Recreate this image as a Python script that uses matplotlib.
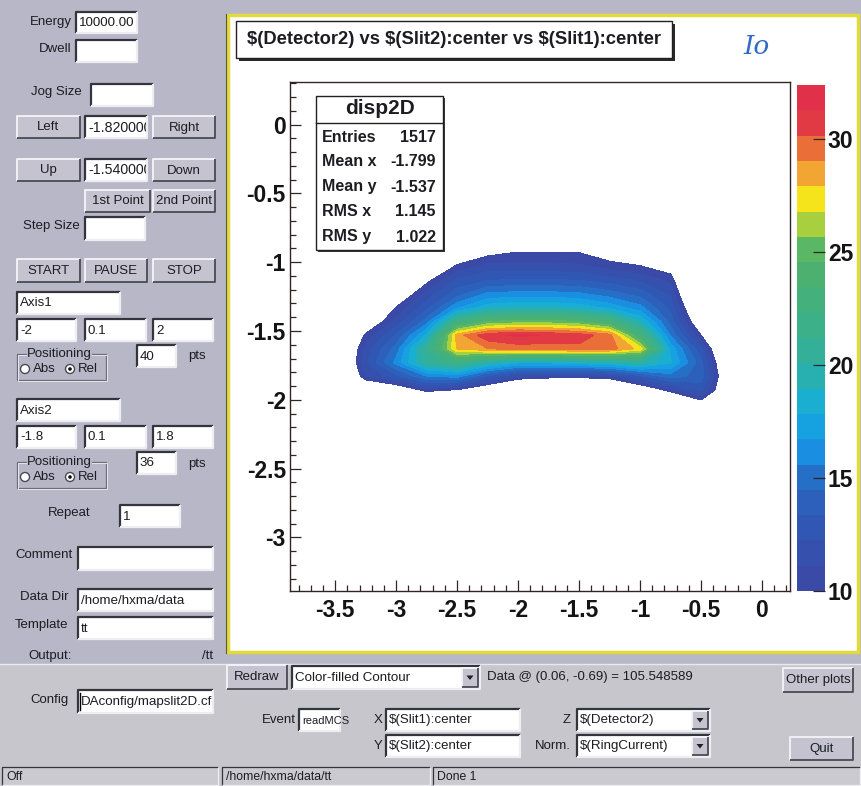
import numpy as np
import matplotlib.pyplot as plt
from matplotlib.colors import ListedColormap, BoundaryNorm
from matplotlib.patches import Rectangle, Circle, Polygon
from matplotlib.ticker import MultipleLocator
from matplotlib.transforms import Bbox

plt.rcParams['font.family'] = ['Liberation Sans', 'DejaVu Sans']

# scan grid: Slit1 / Slit2 centre positions, Detector2 counts normalised to ring current
slit1 = [-3.5, -3.25, -3.0, -2.75, -2.5, -2.25, -2.0, -1.75, -1.5, -1.25, -1.0, -0.75, -0.5, -0.25]
slit2 = [-2.23, -2.13, -2.03, -1.93, -1.83, -1.73, -1.63, -1.53,
         -1.43, -1.33, -1.23, -1.13, -1.03, -0.93, -0.83, -0.73]
counts = [
    [1, 1, 2, 2, 2, 2, 1, 1, 1, 1, 2, 3, 2, 1],
    [1, 2, 3, 3, 3, 3, 2, 2, 2, 2, 3, 4, 4, 2],
    [2, 3, 4, 5, 5, 4.5, 4, 3, 3, 3, 4, 6, 9, 5],
    [3, 7, 8, 10.5, 9.8, 8, 6, 4, 5, 6, 8, 10.5, 12.5, 7],
    [5, 11, 13, 15.5, 16, 13, 11, 10.8, 10.5, 10.8, 13, 15, 14, 7],
    [5.5, 12, 16, 20.5, 22, 19.5, 18, 18, 18.5, 19, 20, 18, 13.8, 6],
    [5.5, 11.5, 15, 21, 28, 29, 29.5, 29.5, 29.8, 29.6, 27.5, 17.5, 12.5, 5],
    [4.5, 10.3, 13.5, 18, 28.5, 31, 31.5, 31.2, 30.8, 29.5, 23, 15.5, 10, 4],
    [2, 8, 11.5, 15, 22, 24.5, 25, 25, 24.5, 23, 19, 14, 8, 3],
    [2, 5, 10.1, 13, 16.5, 18.5, 19, 19, 18.5, 17.5, 16, 13, 6.5, 3],
    [1, 3, 8, 11.5, 14, 15.8, 16, 16, 15.8, 15, 14, 12, 5, 2],
    [1, 2, 6, 9.5, 12.5, 13.3, 13.5, 13.5, 13.3, 12.8, 12, 10.8, 4, 2],
    [1, 2, 4, 7, 10.3, 11.5, 11.5, 11.5, 11.3, 10.6, 10.1, 9, 3, 2],
    [1, 2, 3, 5, 8, 9.5, 10.1, 10.1, 10, 9, 8, 6, 2, 1],
    [1, 1, 2, 3, 5, 6.5, 7, 7, 7, 6, 5, 4, 2, 1],
    [1, 1, 2, 2, 3, 4, 4, 4, 4, 3, 3, 2, 1, 1],
]

stats_names = ['Entries', 'Mean x', 'Mean y', 'RMS x', 'RMS y']
stats_values = ['1517', '-1.799', '-1.537', '1.145', '1.022']

x_ticks = [-3.5, -3, -2.5, -2, -1.5, -1, -0.5, 0]
x_labels = ['-3.5', '-3', '-2.5', '-2', '-1.5', '-1', '-0.5', '0']
y_ticks = [0, -0.5, -1, -1.5, -2, -2.5, -3]
y_labels = ['0', '-0.5', '-1', '-1.5', '-2', '-2.5', '-3']
z_ticks = [10, 15, 20, 25, 30]
z_labels = ['10', '15', '20', '25', '30']

palette = ['#3b4aa6', '#3650ad', '#3157b4', '#2c60bb', '#2570c6', '#1a8ee0', '#16a2e0',
           '#1aaed0', '#28b0b0', '#34b098', '#3cb088', '#44b07c', '#4cb070', '#5ab865',
           '#a8cf3e', '#f5e31c', '#f2a532', '#ea6e38', '#e23a45', '#e0304a']
z_min, z_max = 10, 32.4

W, H = 862, 786
PANEL = '#b8b7c7'
LOWER = '#c6c6cc'
BTN = '#c4c3cf'

fig = plt.figure(figsize=(W / 100, H / 100), dpi=100)
bg = fig.add_axes([0, 0, 1, 1])
bg.set_xlim(0, W)
bg.set_ylim(H, 0)
bg.axis('off')


def txt(ax, x, y, s, ha='left', size=9.5, **kw):
    kw.setdefault('color', '#1c1c22')
    return ax.text(x, y, s, ha=ha, va='center', fontsize=size, parse_math=False, **kw)


def bevel(ax, x0, y0, x1, y1, face, raised=True, lw=1.3):
    ax.add_patch(Rectangle((x0, y0), x1 - x0, y1 - y0, facecolor=face, edgecolor='none'))
    hi, lo = ('#f4f4f8', '#4a4a54') if raised else ('#34343c', '#eeeef2')
    ax.plot([x0, x0, x1], [y1, y0, y0], color=hi, lw=lw, solid_capstyle='butt')
    ax.plot([x0, x1, x1], [y1, y1, y0], color=lo, lw=lw, solid_capstyle='butt')


def button(x0, y0, x1, y1, s):
    bevel(bg, x0, y0, x1, y1, BTN)
    txt(bg, (x0 + x1) / 2, (y0 + y1) / 2 + 0.5, s, ha='center')


def entry(x0, y0, x1, y1, s='', size=9.6, clip=True):
    bevel(bg, x0, y0, x1, y1, 'white', raised=False, lw=1.6)
    if s:
        t = txt(bg, x0 + 3, (y0 + y1) / 2 + 0.5, s, size=size)
        if clip:
            t.set_clip_box(Bbox([[x0 + 1, H - y1], [x1 - 1, H - y0]]))
            t.set_clip_on(True)


def combo(x0, y0, x1, y1, s):
    entry(x0, y0, x1, y1, s)
    bevel(bg, x1 - 18, y0 + 2, x1 - 2, y1 - 2, BTN)
    cx, cy = x1 - 10, (y0 + y1) / 2
    bg.add_patch(Polygon([[cx - 3.5, cy - 2], [cx + 3.5, cy - 2], [cx, cy + 2.5]],
                         closed=True, facecolor='#202020', edgecolor='none'))


def radio_group(y, label):
    bg.add_patch(Rectangle((17, y), 89, 26, facecolor='none', edgecolor='#6c6c78', lw=0.9))
    bg.add_patch(Rectangle((18, y + 1), 89, 26, facecolor='none', edgecolor='#eeeef2', lw=0.6))
    txt(bg, 27, y, label, bbox=dict(facecolor=PANEL, edgecolor='none', pad=0.3))
    for cx, s, on in [(25, 'Abs', False), (70, 'Rel', True)]:
        bg.add_patch(Circle((cx, y + 15), 4.5, facecolor='white', edgecolor='#4a4a54', lw=1))
        if on:
            bg.add_patch(Circle((cx, y + 15), 1.8, facecolor='#101010', edgecolor='none'))
        txt(bg, cx + 8, y + 15, s)


# window background
bg.add_patch(Rectangle((0, 0), W, 664, facecolor=PANEL, edgecolor='none'))
bg.add_patch(Rectangle((0, 664), W, H - 664, facecolor=LOWER, edgecolor='none'))
bg.plot([0, W], [664, 664], color='#e8e8ee', lw=1)

# left control panel
txt(bg, 72, 22, 'Energy', ha='right')
entry(76, 12, 137, 33, '10000.00')
txt(bg, 72, 49, 'Dwell', ha='right')
entry(76, 40, 137, 62)
txt(bg, 82, 92, 'Jog Size', ha='right')
entry(91, 84, 153, 106)
button(17, 116, 80, 138, 'Left')
entry(85, 116, 147, 138, '-1.820000', size=10.2)
button(153, 116, 215, 138, 'Right')
button(17, 159, 80, 181, 'Up')
entry(85, 159, 147, 181, '-1.540000', size=10.2)
button(153, 159, 215, 181, 'Down')
button(85, 190, 150, 212, '1st Point')
button(153, 190, 215, 212, '2nd Point')
txt(bg, 80, 226, 'Step Size', ha='right')
entry(85, 217, 145, 240)
button(17, 259, 80, 282, 'START')
button(85, 259, 147, 282, 'PAUSE')
button(153, 259, 215, 282, 'STOP')

entry(17, 292, 120, 314, 'Axis1')
entry(17, 319, 76, 341, '-2')
entry(85, 319, 146, 341, '0.1')
entry(153, 319, 213, 341, '2')
radio_group(354, 'Positioning')
entry(137, 345, 176, 367, '40')
txt(bg, 188, 356, 'pts')

entry(17, 399, 120, 421, 'Axis2')
entry(17, 426, 76, 448, '-1.8')
entry(85, 426, 146, 448, '0.1')
entry(153, 426, 213, 448, '1.8')
radio_group(462, 'Positioning')
entry(137, 452, 176, 474, '36')
txt(bg, 188, 464, 'pts')

txt(bg, 48, 513, 'Repeat')
entry(120, 505, 180, 527, '1')
txt(bg, 15, 555, 'Comment')
entry(78, 547, 213, 570)
txt(bg, 20, 597, 'Data Dir')
entry(78, 589, 213, 611, '/home/hxma/data')
txt(bg, 15, 625, 'Template')
entry(78, 617, 213, 639, 'tt')
txt(bg, 28, 656, 'Output:')
txt(bg, 213, 656, '/tt', ha='right')

# lower control strip
txt(bg, 30, 700, 'Config')
entry(78, 690, 213, 713, 'DAconfig/mapslit2D.cfg')
bg.plot([80, 80], [693, 710], color='black', lw=1)
button(227, 665, 287, 689, 'Redraw')
combo(292, 666, 480, 689, 'Color-filled Contour')
txt(bg, 487, 677, 'Data @ (0.06, -0.69) = 105.548589')
button(783, 668, 853, 692, 'Other plots')
txt(bg, 296, 720, 'Event', ha='right')
entry(299, 709, 340, 731, 'readMCS', size=8, clip=False)
txt(bg, 378, 720, 'X', ha='center')
entry(386, 709, 520, 731, '$(Slit1):center')
txt(bg, 378, 746, 'Y', ha='center')
entry(386, 735, 520, 757, '$(Slit2):center')
txt(bg, 567, 720, 'Z', ha='center')
combo(577, 709, 710, 731, '$(Detector2)')
txt(bg, 571, 746, 'Norm.', ha='right')
combo(577, 735, 710, 757, '$(RingCurrent)')
button(790, 737, 853, 760, 'Quit')

# status bar
for x0, x1, s in [(2, 218, 'Off'), (222, 430, '/home/hxma/data/tt'), (433, 860, 'Done 1')]:
    bevel(bg, x0, 767, x1, 785, '#cacad0', raised=False, lw=0.9)
    txt(bg, x0 + 4, 776.5, s, size=8.8)

# canvas
bg.add_patch(Rectangle((228, 15), 630, 637, facecolor='white', edgecolor='#e2da3a', lw=2.5))
bg.plot([226.5, 226.5], [14, 653], color='#5a5a40', lw=0.8)

# contour plot
ax = fig.add_axes([290 / W, 1 - 591 / H, 500 / W, 509 / H])
levels = np.linspace(z_min, z_max, len(palette) + 1)
cmap = ListedColormap(palette)
norm = BoundaryNorm(levels, cmap.N)
cs = ax.contourf(slit1, slit2, np.array(counts), levels=levels, cmap=cmap, norm=norm,
                 antialiased=False)
ax.set_xlim(-3.87, 0.23)
ax.set_ylim(-3.39, 0.31)
ax.set_xticks(x_ticks, x_labels, fontweight='bold')
ax.set_yticks(y_ticks, y_labels, fontweight='bold')
ax.xaxis.set_minor_locator(MultipleLocator(0.1))
ax.yaxis.set_minor_locator(MultipleLocator(0.1))
ax.tick_params(which='major', direction='in', length=8, width=0.9, labelsize=16.5,
               color='#302424', labelcolor='#141414')
ax.tick_params(which='minor', direction='in', length=4, width=0.9, color='#302424')
ax.tick_params(axis='x', which='major', pad=6)
ax.tick_params(axis='y', which='major', pad=3)
for sp in ax.spines.values():
    sp.set_color('#302424')
    sp.set_linewidth(1.0)

cax = fig.add_axes([797 / W, 1 - 591 / H, 28 / W, 506 / H])
cb = fig.colorbar(cs, cax=cax)
cb.outline.set_visible(False)
cax.set_yticks(z_ticks, z_labels, fontweight='bold')
cax.tick_params(direction='in', length=9, width=0.9, labelsize=16.5, pad=2,
                color='#302424', labelcolor='#141414')
cax.minorticks_off()

# overlay: title pave, stats box, note
ov = fig.add_axes([0, 0, 1, 1], zorder=10)
ov.set_xlim(0, W)
ov.set_ylim(H, 0)
ov.axis('off')
ov.patch.set_alpha(0)

ov.add_patch(Rectangle((239, 24), 436, 37, facecolor='#2a2a2a', edgecolor='none'))
ov.add_patch(Rectangle((236, 21), 436, 37, facecolor='white', edgecolor='#202020', lw=1))
txt(ov, 454, 40, '$(Detector2) vs $(Slit2):center vs $(Slit1):center', ha='center',
    size=13.2, fontweight='bold')
ov.text(757, 47, 'Io', ha='center', va='center', fontsize=19, color='#2f6bc4',
        family='DejaVu Serif', style='italic')

ov.add_patch(Rectangle((318, 98), 127, 154, facecolor='#3a3a3a', edgecolor='none'))
ov.add_patch(Rectangle((316, 96), 127, 154, facecolor='white', edgecolor='#202020', lw=1))
ov.plot([316, 443], [123, 123], color='#202020', lw=1)
txt(ov, 380, 109, 'disp2D', ha='center', size=15, fontweight='bold')
for i, (name, val) in enumerate(zip(stats_names, stats_values)):
    y = 137 + 25 * i
    txt(ov, 322, y, name, size=11.5, fontweight='bold')
    txt(ov, 436, y, val, ha='right', size=11.5, fontweight='bold')

fig.savefig('out.png', dpi=100)
